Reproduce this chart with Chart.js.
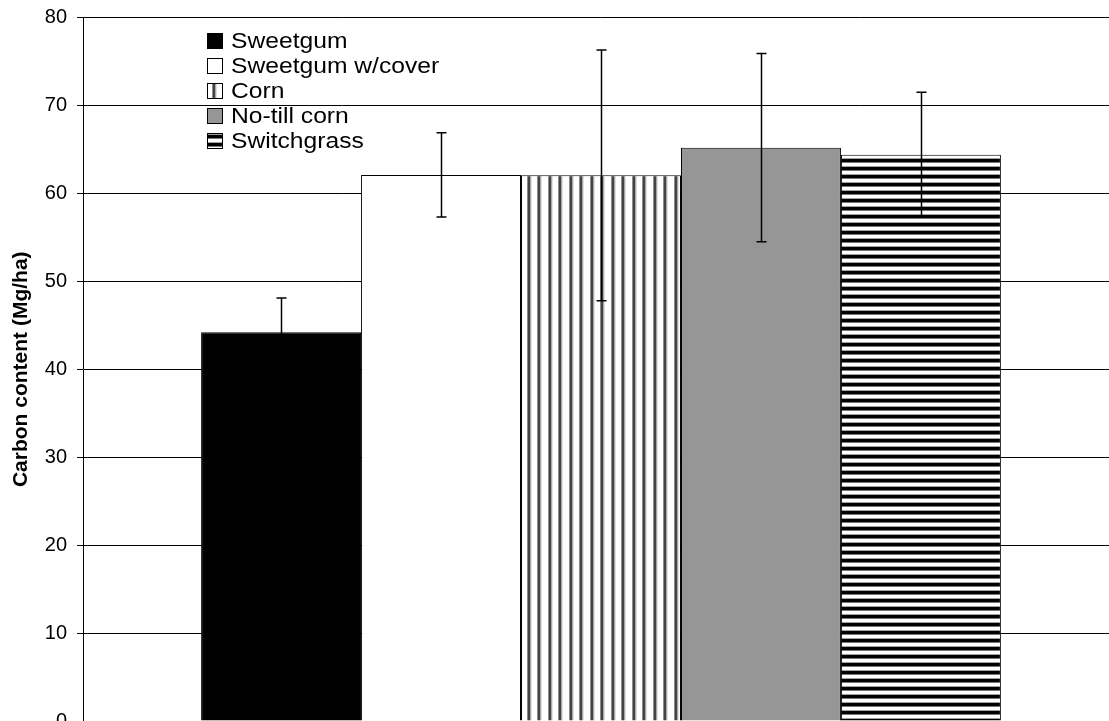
<!DOCTYPE html>
<html>
<head>
<meta charset="utf-8">
<script src="https://cdn.jsdelivr.net/npm/chart.js@4.4.1/dist/chart.umd.min.js"></script>
<style>
  html, body { margin: 0; padding: 0; background: #fff; overflow: hidden; }
  #wrap { position: absolute; left: 0; top: 0; width: 1125px; height: 737px; }
</style>
</head>
<body>
<div id="wrap"><canvas id="chart" width="1125" height="737"></canvas></div>
<script>
// Soil carbon by cropping system
const treatments = ['Sweetgum', 'Sweetgum w/cover', 'Corn', 'No-till corn', 'Switchgrass'];
const carbonMean = [44.2, 62.1, 62.05, 65.2, 64.4];
const carbonErr  = [3.9, 4.8, 14.25, 10.7, 7.1];
const yTicks = [0, 10, 20, 30, 40, 50, 60, 70, 80];

const FONT = '"Liberation Sans", Arial, Helvetica, sans-serif';

// Vertical stripes (corn)
function vStripes() {
  const c = document.createElement('canvas');
  c.width = 21; c.height = 4;
  const g = c.getContext('2d');
  g.fillStyle = '#fff'; g.fillRect(0, 0, 21, 4);
  [2, 12].forEach(x0 => {
    g.fillStyle = '#8c8c8c'; g.fillRect(x0, 0, 1, 4);
    g.fillStyle = '#444'; g.fillRect(x0 + 1, 0, 2, 4);
    g.fillStyle = '#a8a8a8'; g.fillRect(x0 + 3, 0, 1, 4);
    g.fillStyle = '#e0e0e0'; g.fillRect(x0 + 4, 0, 1, 4);
  });
  return g.createPattern(c, 'repeat');
}
// Horizontal stripes (switchgrass)
function hStripes() {
  const c = document.createElement('canvas');
  c.width = 4; c.height = 8;
  const g = c.getContext('2d');
  g.fillStyle = '#fff'; g.fillRect(0, 0, 4, 8);
  g.fillStyle = '#000'; g.fillRect(0, 0, 4, 2); g.fillRect(0, 7, 4, 1);
  g.fillStyle = '#7a7a7a'; g.fillRect(0, 2, 4, 1);
  g.fillStyle = '#a0a0a0'; g.fillRect(0, 6, 4, 1);
  return g.createPattern(c, 'repeat');
}

const fills = ['#000000', '#ffffff', vStripes(), '#969696', hStripes()];

const datasets = treatments.map((name, i) => ({
  label: name,
  data: [carbonMean[i]],
  backgroundColor: fills[i],
  borderColor: '#000',
  borderWidth: 1,
  categoryPercentage: 0.772,
  barPercentage: 1.0
}));

// Error bars drawn on top of each bar
const errorBars = {
  id: 'errorBars',
  afterDatasetsDraw(chart) {
    const ctx = chart.ctx;
    const y = chart.scales.y;
    ctx.save();
    ctx.strokeStyle = '#000';
    ctx.lineWidth = 1.5;
    chart.data.datasets.forEach((ds, i) => {
      const bar = chart.getDatasetMeta(i).data[0];
      const x = Math.round(bar.x) + 0.5;
      const hi = y.getPixelForValue(carbonMean[i] + carbonErr[i]);
      const lo = y.getPixelForValue(carbonMean[i] - carbonErr[i]);
      ctx.beginPath();
      ctx.moveTo(x, hi); ctx.lineTo(x, lo);
      ctx.moveTo(x - 5, hi); ctx.lineTo(x + 5, hi);
      ctx.moveTo(x - 5, lo); ctx.lineTo(x + 5, lo);
      ctx.stroke();
    });
    ctx.restore();
  }
};

// Legend in the upper left of the plot (wide-set lettering)
const boxLegend = {
  id: 'boxLegend',
  afterDraw(chart) {
    const ctx = chart.ctx;
    const x0 = 207, y0 = 40.5, step = 25, size = 16, textX = 231, stretch = 1.12;
    ctx.save();
    chart.data.datasets.forEach((ds, i) => {
      const cy = y0 + i * step;
      const top = Math.round(cy - size / 2);
      ctx.fillStyle = ds.backgroundColor;
      ctx.fillRect(x0, top, size, size);
      ctx.strokeStyle = '#000';
      ctx.lineWidth = 1;
      ctx.strokeRect(x0 + 0.5, top + 0.5, size - 1, size - 1);
      ctx.save();
      ctx.translate(textX, cy + 1);
      ctx.scale(stretch, 1);
      ctx.font = '22px ' + FONT;
      ctx.textBaseline = 'middle';
      ctx.textAlign = 'left';
      ctx.fillStyle = '#000';
      ctx.fillText(ds.label, 0, 0);
      ctx.restore();
    });
    ctx.restore();
  }
};

new Chart(document.getElementById('chart'), {
  type: 'bar',
  data: { labels: [''], datasets },
  plugins: [errorBars, boxLegend],
  options: {
    responsive: false,
    animation: false,
    devicePixelRatio: 1,
    layout: { padding: { top: 17.5, right: 6, bottom: 0, left: 0 } },
    plugins: { legend: { display: false }, tooltip: { enabled: false } },
    scales: {
      x: { display: false },
      y: {
        min: 0, max: 80,
        afterBuildTicks(scale) { scale.ticks = yTicks.map(v => ({ value: v })); },
        afterFit(scale) { scale.width = 83; },
        ticks: { color: '#000', font: { family: FONT, size: 20, lineHeight: 0.6 }, padding: 10 },
        grid: { color: '#000', lineWidth: 1, tickLength: 6 },
        border: { color: '#000', width: 1 },
        title: {
          display: true,
          text: 'Carbon content (Mg/ha)',
          color: '#000',
          font: { family: FONT, size: 21, weight: 'bold' },
          padding: { top: 9, bottom: 0 }
        }
      }
    }
  }
});
</script>
</body>
</html>
